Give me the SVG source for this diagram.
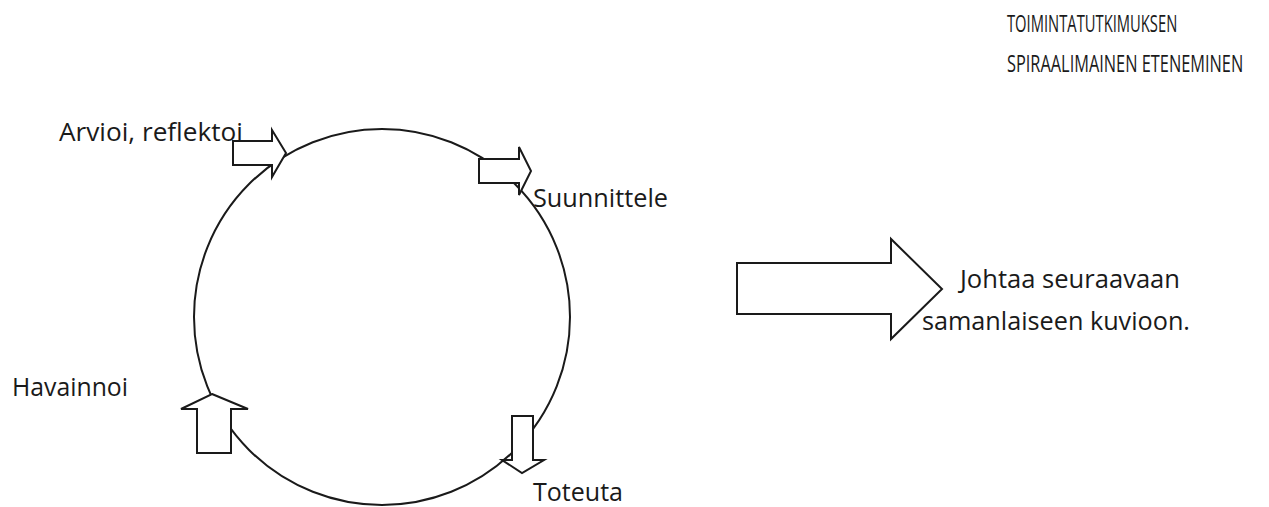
<svg xmlns="http://www.w3.org/2000/svg" width="1269" height="507" viewBox="0 0 1269 507">
  <style>
    .line { fill: none; stroke: #1a1a1a; stroke-width: 2; }
    .arrow { fill: #ffffff; stroke: #1a1a1a; stroke-width: 2; stroke-linejoin: miter; }
    .label { font-family: "Open Sans", "Liberation Sans", sans-serif; font-size: 25px; fill: #1a1a1a; }
    .title { font-family: "Open Sans", "Liberation Sans", sans-serif; font-size: 23px; fill: #1a1a1a; }
  </style>
  <rect width="1269" height="507" fill="#ffffff"/>

  <!-- cycle -->
  <g id="cycle">
    <circle class="line" cx="382" cy="317" r="188"/>
  </g>

  <!-- block arrows along the cycle and the outgoing arrow -->
  <g id="connectors">
    <polygon id="arrow-arvioi" class="arrow" points="233,141 272,141 272,130 286,153 272,177 272,165 233,165"/>
    <polygon id="arrow-suunnittele" class="arrow" points="479,159 519,159 519,147 531,171 519,195 519,183 479,183"/>
    <polygon id="arrow-toteuta" class="arrow" points="512,416 533,416 533,460 544,460 522,473 502,460 512,460"/>
    <polygon id="arrow-havainnoi" class="arrow" points="212,394 248,409 231,409 231,453 197,453 197,409 181,409"/>
    <polygon id="arrow-next" class="arrow" points="737,263 891,263 891,239 942,289 891,339 891,314 737,314"/>
  </g>

  <g id="node-arvioi">
    <text class="label" x="59" y="141" textLength="184" lengthAdjust="spacingAndGlyphs">Arvioi, reflektoi</text>
  </g>
  <g id="node-suunnittele">
    <text class="label" x="533" y="207" textLength="135" lengthAdjust="spacingAndGlyphs">Suunnittele</text>
  </g>
  <g id="node-toteuta">
    <text class="label" x="533" y="501" textLength="90" lengthAdjust="spacingAndGlyphs">Toteuta</text>
  </g>
  <g id="node-havainnoi">
    <text class="label" x="12" y="396" textLength="116" lengthAdjust="spacingAndGlyphs">Havainnoi</text>
  </g>
  <g id="node-next">
    <text class="label" x="960" y="288" textLength="220" lengthAdjust="spacingAndGlyphs">Johtaa seuraavaan</text>
    <text class="label" x="922" y="330" textLength="268" lengthAdjust="spacingAndGlyphs">samanlaiseen kuvioon.</text>
  </g>
  <!-- heading, set in a horizontally condensed face -->
  <g id="title">
    <text class="title" transform="translate(1007,32) scale(0.75,1)" textLength="227" lengthAdjust="spacingAndGlyphs">TOIMINTATUTKIMUKSEN</text>
    <text class="title" transform="translate(1007,72) scale(0.75,1)" textLength="315" lengthAdjust="spacingAndGlyphs">SPIRAALIMAINEN ETENEMINEN</text>
  </g>
</svg>
